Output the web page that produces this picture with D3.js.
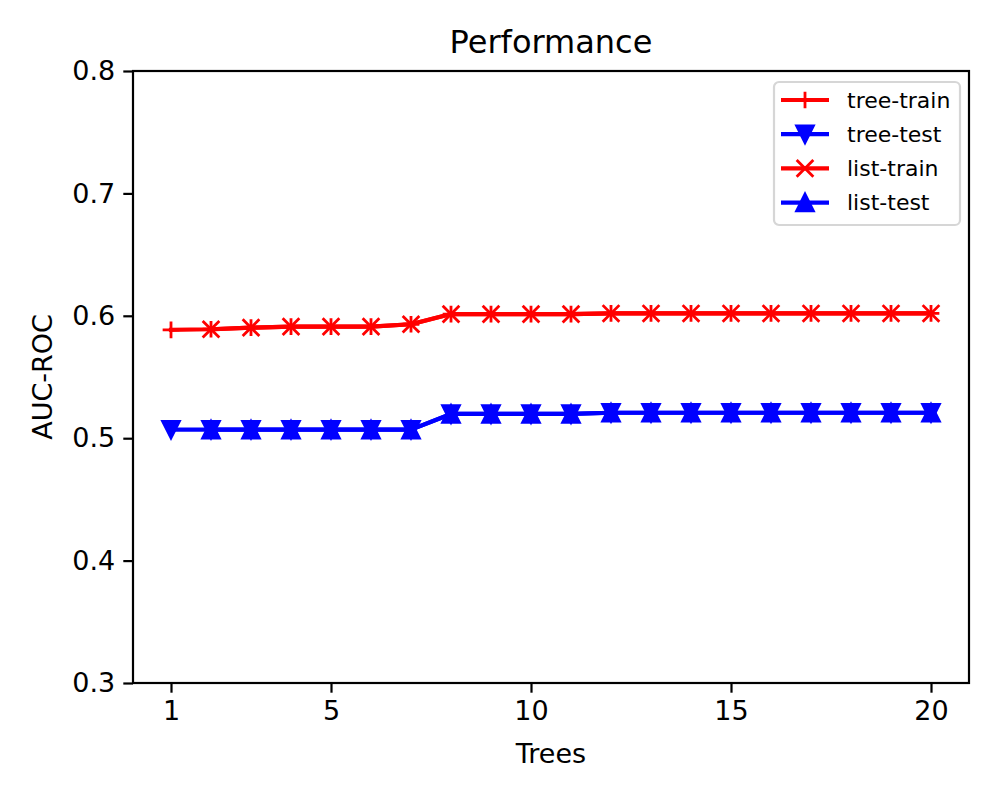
<!DOCTYPE html>
<html>
<head>
<meta charset="utf-8">
<script src="https://cdn.jsdelivr.net/npm/d3@7"></script>
<style>
  body { margin: 0; background: #fff; }
  text { font-family: "DejaVu Sans", sans-serif; fill: #000; }
</style>
</head>
<body>
<div id="chart"></div>
<script>
// data
var treeTrees = [1, 2, 3, 4, 5, 6, 7, 8, 9, 10, 11, 12, 13, 14, 15, 16, 17, 18, 19, 20];
var treeTrain = [0.5885, 0.5890, 0.5903, 0.5912, 0.5911, 0.5911, 0.5931, 0.6014, 0.6014, 0.6014,
                 0.6014, 0.6019, 0.6019, 0.6019, 0.6019, 0.6019, 0.6019, 0.6019, 0.6019, 0.6019];
var treeTest  = [0.5070, 0.5070, 0.5070, 0.5070, 0.5070, 0.5070, 0.5070, 0.5198, 0.5198, 0.5198,
                 0.5198, 0.5208, 0.5208, 0.5208, 0.5208, 0.5208, 0.5208, 0.5208, 0.5208, 0.5208];
var listTrees = [2, 3, 4, 5, 6, 7, 8, 9, 10, 11, 12, 13, 14, 15, 16, 17, 18, 19, 20];
var listTrain = [0.5890, 0.5903, 0.5912, 0.5911, 0.5911, 0.5931, 0.6014, 0.6014, 0.6014,
                 0.6014, 0.6019, 0.6019, 0.6019, 0.6019, 0.6019, 0.6019, 0.6019, 0.6019, 0.6019];
var listTest  = [0.5070, 0.5070, 0.5070, 0.5070, 0.5070, 0.5070, 0.5198, 0.5198, 0.5198,
                 0.5198, 0.5208, 0.5208, 0.5208, 0.5208, 0.5208, 0.5208, 0.5208, 0.5208, 0.5208];
var xTicks = [1, 5, 10, 15, 20];
var yTicks = [0.3, 0.4, 0.5, 0.6, 0.7, 0.8];

var series = [
  { name: "tree-train", xs: treeTrees, ys: treeTrain, color: "red",  marker: "plus" },
  { name: "tree-test",  xs: treeTrees, ys: treeTest,  color: "blue", marker: "tridown" },
  { name: "list-train", xs: listTrees, ys: listTrain, color: "red",  marker: "cross" },
  { name: "list-test",  xs: listTrees, ys: listTest,  color: "blue", marker: "triup" }
];

var width = 1000, height = 800;
var margin = { top: 71, right: 31, bottom: 117, left: 133 };
var plotW = width - margin.left - margin.right;
var plotH = height - margin.top - margin.bottom;

var svg = d3.select("#chart").append("svg")
  .attr("width", width)
  .attr("height", height);

var g = svg.append("g")
  .attr("transform", "translate(" + margin.left + "," + margin.top + ")");

var x = d3.scaleLinear().domain([0.05, 20.95]).range([0, plotW]);
var y = d3.scaleLinear().domain([0.3, 0.8]).range([plotH, 0]);

// marker paths, size in px
var ms = 16.7;
function markerPath(type, s) {
  var h = s / 2;
  if (type === "plus") return "M" + (-h) + ",0H" + h + "M0," + (-h) + "V" + h;
  if (type === "cross") return "M" + (-h) + "," + (-h) + "L" + h + "," + h + "M" + (-h) + "," + h + "L" + h + "," + (-h);
  if (type === "triup") return "M0," + (-h) + "L" + h + "," + h + "L" + (-h) + "," + h + "Z";
  if (type === "tridown") return "M0," + h + "L" + h + "," + (-h) + "L" + (-h) + "," + (-h) + "Z";
}
function filled(type) { return type === "triup" || type === "tridown"; }

// axes
var xAxis = g.append("g")
  .attr("transform", "translate(0," + plotH + ")")
  .call(d3.axisBottom(x).tickValues(xTicks).tickSize(9.7).tickPadding(8));
var yAxis = g.append("g")
  .call(d3.axisLeft(y).tickValues(yTicks).tickFormat(d3.format(".1f")).tickSize(9.7).tickPadding(8));

[xAxis, yAxis].forEach(function(a) {
  a.select(".domain").remove();
  a.selectAll(".tick line").attr("stroke", "#000").attr("stroke-width", 2.2);
  a.selectAll(".tick text").style("font-size", "27px").style("font-family", "DejaVu Sans");
});

// lines and markers
var line = d3.line()
  .x(function(d) { return x(d[0]); })
  .y(function(d) { return y(d[1]); });

series.forEach(function(s) {
  var pts = s.xs.map(function(v, i) { return [v, s.ys[i]]; });
  g.append("path")
    .datum(pts)
    .attr("d", line)
    .attr("fill", "none")
    .attr("stroke", s.color)
    .attr("stroke-width", 4.2)
    .attr("stroke-linejoin", "round")
    .attr("stroke-linecap", "square");
  g.selectAll(null)
    .data(pts)
    .enter()
    .append("path")
    .attr("transform", function(d) { return "translate(" + x(d[0]) + "," + y(d[1]) + ")"; })
    .attr("d", markerPath(s.marker, ms))
    .attr("fill", filled(s.marker) ? s.color : "none")
    .attr("stroke", s.color)
    .attr("stroke-width", 2.8)
    .attr("stroke-linejoin", "miter");
});

// frame
g.append("rect")
  .attr("width", plotW)
  .attr("height", plotH)
  .attr("fill", "none")
  .attr("stroke", "#000")
  .attr("stroke-width", 2.2);

// title and labels
svg.append("text")
  .attr("x", margin.left + plotW / 2)
  .attr("y", 53)
  .attr("text-anchor", "middle")
  .style("font-size", "32px")
  .text("Performance");

svg.append("text")
  .attr("x", margin.left + plotW / 2)
  .attr("y", 763)
  .attr("text-anchor", "middle")
  .style("font-size", "27px")
  .text("Trees");

svg.append("text")
  .attr("transform", "translate(52," + (margin.top + plotH / 2) + ") rotate(-90)")
  .attr("text-anchor", "middle")
  .style("font-size", "27px")
  .text("AUC-ROC");

// legend
var legend = svg.append("g").attr("transform", "translate(774,82)");
legend.append("rect")
  .attr("width", 186)
  .attr("height", 143)
  .attr("rx", 5)
  .attr("fill", "#fff")
  .attr("fill-opacity", 0.8)
  .attr("stroke", "#d6d6d6")
  .attr("stroke-width", 2.2);

var item = legend.selectAll(".item")
  .data(series)
  .enter()
  .append("g")
  .attr("class", "item")
  .attr("transform", function(d, i) { return "translate(0," + (18 + i * 34.2) + ")"; });

item.append("line")
  .attr("x1", 7).attr("x2", 55)
  .attr("stroke", function(d) { return d.color; })
  .attr("stroke-width", 4.2);
item.append("path")
  .attr("transform", "translate(31,0)")
  .attr("d", function(d) { return markerPath(d.marker, ms); })
  .attr("fill", function(d) { return filled(d.marker) ? d.color : "none"; })
  .attr("stroke", function(d) { return d.color; })
  .attr("stroke-width", 2.8);
item.append("text")
  .attr("x", 73)
  .attr("dy", "0.35em")
  .style("font-size", "22px")
  .text(function(d) { return d.name; });
</script>
</body>
</html>
